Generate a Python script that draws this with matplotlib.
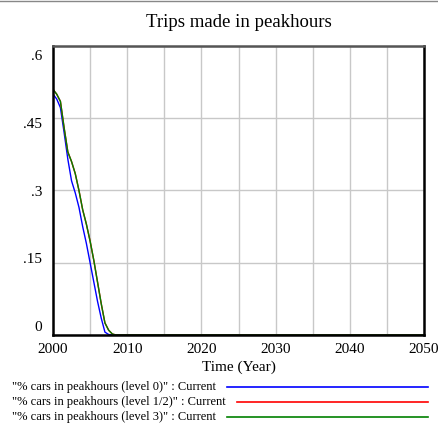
import matplotlib.pyplot as plt
import matplotlib.transforms as mtransforms
from matplotlib.lines import Line2D

plt.rcParams['font.family'] = ['Liberation Serif', 'DejaVu Serif']

# ------------------------------ data ------------------------------
years = [2000, 2000.5, 2001, 2001.5, 2002, 2002.5, 2003, 2003.5, 2004, 2004.5,
         2005, 2005.5, 2006, 2006.5, 2007, 2007.5, 2008, 2008.5, 2009, 2050]
level0 = [0.50, 0.49, 0.472, 0.42, 0.365, 0.32, 0.295, 0.265, 0.225, 0.19,
          0.15, 0.11, 0.07, 0.035, 0.006, 0.001, 0.0, 0.0, 0.0, 0.0]
level12 = [0.51, 0.50, 0.485, 0.43, 0.38, 0.36, 0.335, 0.30, 0.26, 0.23,
           0.195, 0.155, 0.11, 0.065, 0.025, 0.01, 0.002, 0.0, 0.0, 0.0]
level3 = [0.51, 0.50, 0.485, 0.43, 0.38, 0.36, 0.335, 0.30, 0.26, 0.23,
          0.195, 0.155, 0.11, 0.065, 0.025, 0.01, 0.002, 0.0, 0.0, 0.0]

series_names = ['"% cars in peakhours (level 0)" : Current',
                '"% cars in peakhours (level 1/2)" : Current',
                '"% cars in peakhours (level 3)" : Current']
series_colors = ['#0000ff', '#ff0000', '#008000']

x_ticks = [2000, 2010, 2020, 2030, 2040, 2050]
y_ticks = [0, 0.15, 0.3, 0.45, 0.6]
y_labels = ['0', '.15', '.3', '.45', '.6']

# ------------------------------ plot ------------------------------
fig = plt.figure(figsize=(4.39, 4.23), dpi=100)
ax = fig.add_axes([53 / 439, 1 - 335 / 423, 371 / 439, 289 / 423])

ax.plot(years, level0, color=series_colors[0], lw=1)
ax.plot(years, level12, color=series_colors[1], lw=1)
ax.plot(years, level3, color=series_colors[2], lw=1)

ax.set_xlim(2000, 2050)
ax.set_ylim(0, 0.6)
ax.set_xticks(x_ticks)
ax.set_xticks(range(2005, 2050, 10), minor=True)
ax.set_yticks(y_ticks)
ax.set_yticklabels(y_labels)
ax.grid(True, which='both', color='#c8c8c8', lw=1)
ax.tick_params(which='both', length=0, labelsize=11)
ax.tick_params(axis='y', pad=8)
ax.tick_params(axis='x', pad=6)
for s in ax.spines.values():
    s.set_linewidth(1.8)
    s.set_color('black')
ax.spines['top'].set_color('#555555')

# y labels sit squeezed inwards, not exactly on the gridlines
for v, lab in zip(y_ticks, ax.get_yticklabels()):
    dy = -(v - 0.3) / 0.3 * 9.5 / 100
    lab.set_transform(lab.get_transform() + mtransforms.ScaledTranslation(0, dy, fig.dpi_scale_trans))

ax.set_xlabel('Time (Year)', fontsize=11, labelpad=3)
ax.set_title('Trips made in peakhours', fontsize=13.5, pad=14)

# legend rows under the axes, text then a line to the right edge
fig.add_artist(Line2D([0, 1], [1 - 1.5 / 423, 1 - 1.5 / 423], color='#888888', lw=1))
fig.canvas.draw()
renderer = fig.canvas.get_renderer()
row_y = [387, 402, 416.5]
for name, col, yp in zip(series_names, series_colors, row_y):
    yf = 1 - yp / 423
    t = fig.text(12 / 439, yf, name, fontsize=9, va='center', ha='left')
    bb = t.get_window_extent(renderer)
    x0 = (bb.x1 + 11) / 439
    fig.add_artist(Line2D([x0, 428 / 439], [yf, yf], color=col, lw=1.2))

fig.savefig('out.png', dpi=100)
